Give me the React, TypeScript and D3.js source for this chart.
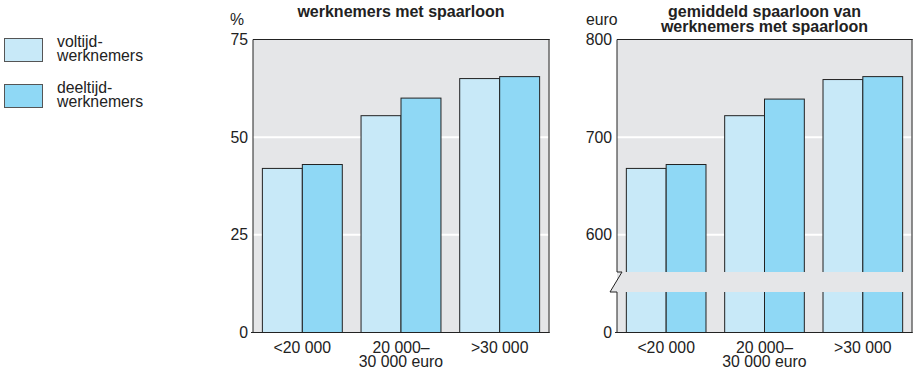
import React from "react";
import * as d3 from "d3";

const categories = ["<20 000", "20 000–|30 000 euro", ">30 000"];
const seriesNames = ["voltijd-|werknemers", "deeltijd-|werknemers"];
const pctVoltijd = [42, 55.5, 65];
const pctDeeltijd = [43, 60, 65.5];
const euroVoltijd = [668, 722, 759];
const euroDeeltijd = [672, 739, 762];
const pctTicks = [0, 25, 50, 75];
const euroTicks = [600, 700, 800];

const COLORS = ["#c8e9f8", "#8fd8f5"];
const BG = "#e5e6e8";
const FONT = "'Liberation Sans', Arial, Helvetica, sans-serif";
const FS = 15.8;

type PanelProps = {
  x0: number;
  x1: number;
  y0: number;
  y1: number;
  domain: [number, number];
  ticks: number[];
  tickLabel: (v: number) => string;
  series: number[][];
  unit: string;
  unitX: number;
  titleLines: string[];
  broken?: boolean;
};

function Panel(p: PanelProps) {
  const x = d3.scaleBand<string>().domain(categories).range([p.x0, p.x1]).paddingInner(0.19).paddingOuter(0.095);
  const xs = d3.scaleBand<number>().domain([0, 1]).range([0, x.bandwidth()]);
  const y = d3.scaleLinear().domain(p.domain).range([p.y0, p.y1]);
  const cx = (p.x0 + p.x1) / 2;
  const breakTop = 272;
  const breakBot = 292;
  return (
    <g>
      {p.titleLines.map((t, i) => (
        <text key={i} x={cx} y={17 + i * 15} textAnchor="middle" fontWeight="bold" fontSize={16} fill="#222">
          {t}
        </text>
      ))}
      <text x={p.unitX} y={25} fontSize={FS} fill="#222">{p.unit}</text>
      <rect x={p.x0} y={p.y1} width={p.x1 - p.x0} height={p.y0 - p.y1} fill={BG} />
      {p.ticks.filter((t) => t !== p.domain[1] && t !== p.domain[0]).map((t) => (
        <line key={t} x1={p.x0 - 5} x2={p.x1} y1={y(t)} y2={y(t)} stroke="#fff" strokeWidth={2} />
      ))}
      {categories.map((c, ci) =>
        p.series.map((s, si) => (
          <rect
            key={c + si}
            x={(x(c) as number) + (xs(si) as number)}
            y={y(s[ci])}
            width={xs.bandwidth()}
            height={p.y0 - y(s[ci])}
            fill={COLORS[si]}
            stroke="#222"
            strokeWidth={1}
          />
        ))
      )}
      {p.broken && (
        <path
          d={`M${p.x0 + 5},${breakTop} L${p.x1},${breakTop} L${p.x1},${breakBot} L${p.x0 - 7},${breakBot} Z`}
          fill={BG}
        />
      )}
      <line x1={p.x1} x2={p.x1} y1={p.y1} y2={p.y0} stroke="#666" strokeWidth={1.5} />
      <line x1={p.x0} x2={p.x1 + 0.75} y1={p.y1} y2={p.y1} stroke="#222" strokeWidth={1} />
      {p.broken ? (
        <path
          d={`M${p.x0},${p.y1} L${p.x0},${breakTop} L${p.x0 + 5},${breakTop} L${p.x0 - 7},${breakBot} L${p.x0},${breakBot} L${p.x0},${p.y0}`}
          fill="none"
          stroke="#222"
          strokeWidth={1}
        />
      ) : (
        <line x1={p.x0} x2={p.x0} y1={p.y1} y2={p.y0} stroke="#222" strokeWidth={1} />
      )}
      <line x1={p.x0 - 2} x2={p.x1 + 0.75} y1={p.y0} y2={p.y0} stroke="#222" strokeWidth={1} />
      {[p.domain[0], ...p.ticks.filter((t) => t !== p.domain[0])].map((t) => (
        <text key={t} x={p.x0 - 5} y={y(t) + 5.5} textAnchor="end" fontSize={FS} fill="#222">
          {p.tickLabel(t)}
        </text>
      ))}
      {categories.map((c) => {
        const lines = c.split("|");
        return lines.map((l, li) => (
          <text key={c + li} x={(x(c) as number) + x.bandwidth() / 2} y={352.5 + li * 14} textAnchor="middle" fontSize={FS} fill="#222">
            {l}
          </text>
        ));
      })}
    </g>
  );
}

export default function App() {
  return (
    <svg width={917} height={375} style={{ position: "absolute", left: 0, top: 0, fontFamily: FONT }}>
      <rect width={917} height={375} fill="#fff" />
      {seriesNames.map((s, i) => {
        const top = 38 + i * 46;
        const lines = s.split("|");
        return (
          <g key={s}>
            <rect x={4.5} y={top + 0.5} width={38} height={23} fill={COLORS[i]} stroke="#555" strokeWidth={1} />
            {lines.map((l, li) => (
              <text key={li} x={57} y={top + 8.5 + li * 14} fontSize={FS} fill="#222">{l}</text>
            ))}
          </g>
        );
      })}
      <Panel
        x0={253}
        x1={549}
        y0={332.5}
        y1={39.5}
        domain={[0, 75]}
        ticks={pctTicks}
        tickLabel={(v) => String(v)}
        series={[pctVoltijd, pctDeeltijd]}
        unit="%"
        unitX={230}
        titleLines={["werknemers met spaarloon"]}
      />
      <Panel
        x0={617}
        x1={912}
        y0={332.5}
        y1={39.5}
        domain={[500, 800]}
        ticks={euroTicks}
        tickLabel={(v) => (v === 500 ? "0" : String(v))}
        series={[euroVoltijd, euroDeeltijd]}
        unit="euro"
        unitX={586}
        titleLines={["gemiddeld spaarloon van", "werknemers met spaarloon"]}
        broken
      />
    </svg>
  );
}
